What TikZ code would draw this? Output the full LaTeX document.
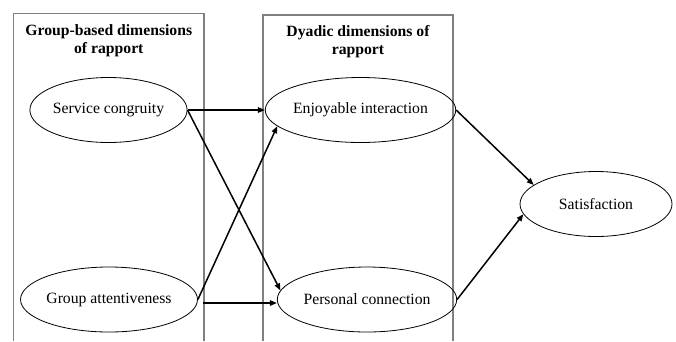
\documentclass[tikz,border=0pt]{standalone}
\usepackage{fontspec}
\setmainfont{Liberation Serif}
\usetikzlibrary{shapes.geometric,arrows.meta}
\definecolor{boxgray}{rgb}{0.5,0.5,0.5}
\tikzset{
  txt/.style={font=\fontsize{15.7}{18}\selectfont},
  ell/.style={txt, ellipse, draw=black, line width=0.8pt, minimum width=152pt, minimum height=65pt, inner sep=0pt},
  title/.style={font=\fontsize{15.7}{18}\selectfont\bfseries, align=center, inner sep=0pt},
  frame/.style={draw=boxgray, line width=1.1pt},
  arr/.style={draw=black, line width=1.5pt, -{Triangle[length=7pt,width=5.5pt]}}
}
\begin{document}
\begin{tikzpicture}[x=1pt,y=-1pt]
\useasboundingbox (0,0) rectangle (676,341);
% group boxes (open at the bottom)
\draw[frame] (13.5,341) -- (13.5,13.5) -- (204,13.5) -- (204,341);
\draw[frame] (263,341) -- (263,15) -- (453,15) -- (453,341);
\node[title] (lt) at (108.8,41) {Group-based dimensions\\of rapport};
\node[title] (rt) at (358,42) {Dyadic dimensions of\\rapport};
% constructs
\node[ell] (sc) at (108.5,110) {Service congruity};
\node[ell] (ga) at (109,299.5) {Group attentiveness};
\node[ell] (ei) at (360.5,110) {Enjoyable interaction};
\node[ell] (pc) at (367,299.5) {Personal connection};
\node[ell] (sat) at (596,204) {Satisfaction};
% paths
\draw[arr] (sc.east) -- (ei.west);
\draw[arr] (sc.east) -- (pc.174);
\draw[arr] (ga.east) -- (ei.191);
\draw[arr] ([xshift=5pt,yshift=-3.5pt]ga.east) -- ([yshift=-3.5pt]pc.west);
\draw[arr] (ei.east) -- (sat.163);
\draw[arr] (pc.east) -- (sat.188);
\end{tikzpicture}
\end{document}
